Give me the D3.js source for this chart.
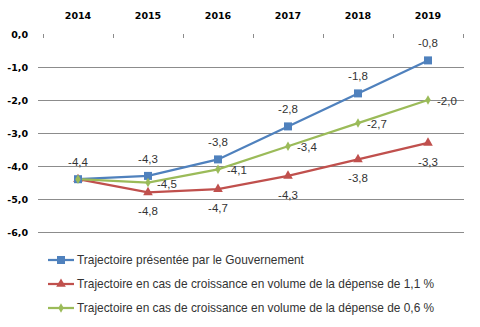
<!DOCTYPE html>
<html><head><meta charset="utf-8">
<script src="https://cdn.jsdelivr.net/npm/d3@7"></script>
<style>body{margin:0;background:#fff}svg{display:block}</style>
</head><body>
<script>
const years = ["2014","2015","2016","2017","2018","2019"];
const gouv = [-4.4, -4.3, -3.8, -2.8, -1.8, -0.8];
const vol11 = [-4.4, -4.8, -4.7, -4.3, -3.8, -3.3];
const vol06 = [-4.4, -4.5, -4.1, -3.4, -2.7, -2.0];
const yTicks = [0, -1, -2, -3, -4, -5, -6];
const seriesNames = [
  "Trajectoire présentée par le Gouvernement",
  "Trajectoire en cas de croissance en volume de la dépense de 1,1 %",
  "Trajectoire en cas de croissance en volume de la dépense de 0,6 %"
];

const W = 480, H = 327;
const svg = d3.select("body").append("svg").attr("width", W).attr("height", H);
const fmt = v => v.toFixed(1).replace(".", ",");

const x = d3.scaleBand().domain(years).range([43, 463]);
const y = d3.scaleLinear().domain([-6, 0]).range([232, 34]);

// gridlines
svg.append("g").selectAll("line").data(yTicks.filter(t => t !== 0)).join("line")
  .attr("x1", 38).attr("x2", 464)
  .attr("y1", d => y(d)).attr("y2", d => y(d))
  .attr("stroke", "#8c8c8c").attr("stroke-width", 1).attr("shape-rendering", "crispEdges");

// x-axis tick marks at category boundaries
const bounds = years.map(d => x(d)).concat([x.range()[1]]);
svg.append("g").selectAll("line").data(bounds).join("line")
  .attr("x1", d => Math.round(d) + 0.5).attr("x2", d => Math.round(d) + 0.5)
  .attr("y1", y(0)).attr("y2", y(0) + 4)
  .attr("stroke", "#8c8c8c").attr("stroke-width", 1);

// year labels (top)
svg.append("g").selectAll("text").data(years).join("text")
  .attr("x", d => x(d) + x.bandwidth() / 2).attr("y", 19)
  .attr("text-anchor", "middle")
  .attr("font-family", "DejaVu Sans, Verdana, sans-serif").attr("font-weight", "bold")
  .attr("font-size", 9.5).attr("fill", "#000")
  .text(d => d);

// y labels
svg.append("g").selectAll("text").data(yTicks).join("text")
  .attr("x", 28).attr("y", d => y(d) + 3.5)
  .attr("text-anchor", "end")
  .attr("font-family", "DejaVu Sans, Verdana, sans-serif").attr("font-weight", "bold")
  .attr("font-size", 9.5).attr("fill", "#000")
  .text(d => fmt(d));

const cx = d => x(d) + x.bandwidth() / 2;
const line = d3.line().x((d, i) => cx(years[i])).y(d => y(d));

const series = [
  { vals: gouv, color: "#4F81BD", marker: "square", labelPos: "above", skip: [] },
  { vals: vol11, color: "#C0504D", marker: "triangle", labelPos: "below", skip: [0] },
  { vals: vol06, color: "#9BBB59", marker: "diamond", labelPos: "right", skip: [0] }
];

function drawMarker(g, type, px, py, color) {
  if (type === "square") {
    g.append("rect").attr("x", px - 4).attr("y", py - 4).attr("width", 8).attr("height", 8).attr("fill", color);
  } else if (type === "triangle") {
    g.append("path").attr("d", d3.symbol().type(d3.symbolTriangle).size(40)()).attr("transform", `translate(${px},${py})`).attr("fill", color);
  } else {
    g.append("path").attr("d", d3.symbol().type(d3.symbolDiamond).size(26)()).attr("transform", `translate(${px},${py})`).attr("fill", color);
  }
}

[0, 1, 2].forEach(si => {
  const s = series[si];
  svg.append("path").datum(s.vals).attr("d", line)
    .attr("fill", "none").attr("stroke", s.color).attr("stroke-width", 2.25);
});
[1, 0, 2].forEach(si => {
  const s = series[si];
  const g = svg.append("g");
  s.vals.forEach((v, i) => drawMarker(g, s.marker, cx(years[i]), y(v), s.color));
});

// data labels
series.forEach(s => {
  s.vals.forEach((v, i) => {
    if (s.skip.includes(i)) return;
    let px = cx(years[i]), py = y(v), anchor = "middle";
    if (s.labelPos === "above") py -= 13;
    else if (s.labelPos === "below") py += 23;
    else { px += 9; py += 5; anchor = "start"; }
    svg.append("text").attr("x", px).attr("y", py).attr("text-anchor", anchor)
      .attr("font-family", "Liberation Sans, Arial, sans-serif").attr("font-size", 11.5)
      .attr("fill", "#333").text(fmt(v));
  });
});

// legend
const legY = [260, 284, 308];
series.forEach((s, i) => {
  const g = svg.append("g");
  g.append("line").attr("x1", 48).attr("x2", 74).attr("y1", legY[i]).attr("y2", legY[i])
    .attr("stroke", s.color).attr("stroke-width", 2.25);
  drawMarker(g, s.marker, 61, legY[i], s.color);
  g.append("text").attr("x", 77).attr("y", legY[i] + 4)
    .attr("font-family", "Liberation Sans, Arial, sans-serif").attr("font-size", 11.9)
    .attr("fill", "#333").text(seriesNames[i]);
});
</script>
</body></html>
